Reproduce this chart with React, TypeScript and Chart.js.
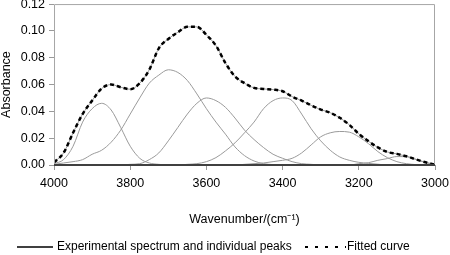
import React, { useEffect, useRef } from 'react';
import { Chart, registerables } from 'chart.js';

Chart.register(...registerables);

const wavenumbers = [
  4000, 3975, 3950, 3925, 3900, 3875, 3850, 3825, 3800, 3775,
  3750, 3725, 3700, 3675, 3650, 3625, 3600, 3575, 3550, 3525,
  3500, 3475, 3450, 3425, 3400, 3375, 3350, 3325, 3300, 3275,
  3250, 3225, 3200, 3175, 3150, 3125, 3100, 3075, 3050, 3025, 3000,
];

const fitted = [
  0.002, 0.009, 0.024, 0.038, 0.048, 0.057, 0.060, 0.058, 0.0565, 0.061,
  0.071, 0.087, 0.094, 0.099, 0.103, 0.103, 0.097, 0.089, 0.076, 0.066,
  0.061, 0.0575, 0.0567, 0.0562, 0.055, 0.051, 0.048, 0.0445, 0.0413, 0.039,
  0.0352, 0.030, 0.0232, 0.0178, 0.0131, 0.0097, 0.0083, 0.0065, 0.0042, 0.002, 0.0003,
];

const experimental = [
  0.002, 0.009, 0.024, 0.038, 0.048, 0.057, 0.060, 0.058, 0.0565, 0.061,
  0.071, 0.087, 0.094, 0.099, 0.103, 0.103, 0.097, 0.089, 0.076, 0.066,
  0.061, 0.0575, 0.0567, 0.0562, 0.055, 0.051, 0.048, 0.0445, 0.0413, 0.039,
  0.0352, 0.030, 0.0232, 0.0178, 0.0131, 0.0097, 0.0083, 0.0065, 0.0042, 0.002, 0.0003,
];

const peak1 = [
  0.001, 0.004, 0.014, 0.032, 0.042, 0.046, 0.041, 0.028, 0.014, 0.005,
  0.0015, 0.0005, 0, 0, 0, 0, 0, 0, 0, 0,
  0, 0, 0, 0, 0, 0, 0, 0, 0, 0,
  0, 0, 0, 0, 0, 0, 0, 0, 0, 0, 0,
];

const peak2 = [
  0.0005, 0.0015, 0.0025, 0.004, 0.008, 0.011, 0.017, 0.026, 0.038, 0.050,
  0.061, 0.067, 0.071, 0.069, 0.063, 0.053, 0.042, 0.032, 0.023, 0.0135,
  0.007, 0.003, 0.001, 0.0003, 0, 0, 0, 0, 0, 0,
  0, 0, 0, 0, 0, 0, 0, 0, 0, 0, 0,
];

const peak3 = [
  0, 0, 0, 0, 0, 0, 0, 0, 0.0005, 0.001,
  0.004, 0.009, 0.018, 0.028, 0.038, 0.046, 0.050, 0.048, 0.043, 0.035,
  0.026, 0.019, 0.013, 0.008, 0.005, 0.0025, 0.001, 0.0005, 0, 0,
  0, 0, 0, 0, 0, 0, 0, 0, 0, 0, 0,
];

const peak4 = [
  0, 0, 0, 0, 0, 0, 0, 0, 0, 0,
  0, 0, 0, 0, 0.0005, 0.001, 0.0025, 0.0055, 0.0105, 0.0165,
  0.024, 0.032, 0.042, 0.048, 0.050, 0.048, 0.038, 0.027, 0.018, 0.011,
  0.006, 0.0035, 0.002, 0.0012, 0.0006, 0, 0, 0, 0, 0, 0,
];

const peak5 = [
  0, 0, 0, 0, 0, 0, 0, 0, 0, 0,
  0, 0, 0, 0, 0, 0, 0, 0, 0, 0,
  0.0005, 0.001, 0.0015, 0.0025, 0.0035, 0.005, 0.009, 0.015, 0.021, 0.024,
  0.025, 0.0245, 0.021, 0.016, 0.010, 0.0055, 0.0025, 0.001, 0.0003, 0, 0,
];

const peak6 = [
  0, 0, 0, 0, 0, 0, 0, 0, 0, 0,
  0, 0, 0, 0, 0, 0, 0, 0, 0, 0,
  0, 0, 0, 0, 0, 0, 0, 0, 0, 0,
  0, 0, 0.001, 0.0017, 0.0035, 0.0048, 0.0063, 0.0062, 0.0042, 0.0018, 0.0005,
];

const xTickValues = [4000, 3800, 3600, 3400, 3200, 3000];
const yTickLabels = ['0.00', '0.02', '0.04', '0.06', '0.08', '0.10', '0.12'];
const legendLabels = ['Experimental spectrum and individual peaks', 'Fitted curve'];
const xTitle = 'Wavenumber/(cm\u207B\u00B9)';
const yTitle = 'Absorbance';

const FONT = "'Liberation Sans', Arial, Helvetica, sans-serif";

function toPoints(vals: number[]) {
  return wavenumbers.map((w, i) => ({ x: w, y: vals[i] }));
}

const framePlugin = {
  id: 'frame',
  afterDatasetsDraw(chart: any) {
    const { ctx, chartArea } = chart;
    const { left, right, top, bottom } = chartArea;
    ctx.save();
    ctx.lineWidth = 1;
    ctx.strokeStyle = '#a6a6a6';
    ctx.beginPath();
    ctx.moveTo(left + 0.5, bottom);
    ctx.lineTo(left + 0.5, top + 0.5);
    ctx.lineTo(right - 0.5, top + 0.5);
    ctx.lineTo(right - 0.5, bottom);
    ctx.stroke();
    ctx.strokeStyle = '#404040';
    ctx.lineWidth = 2;
    ctx.beginPath();
    ctx.moveTo(left, bottom);
    ctx.lineTo(right, bottom);
    ctx.stroke();
    ctx.restore();
  },
};

const legendPlugin = {
  id: 'customLegend',
  afterDraw(chart: any) {
    const { ctx } = chart;
    const y = 247;
    ctx.save();
    ctx.font = `12px ${FONT}`;
    ctx.fillStyle = '#000';
    ctx.textBaseline = 'middle';
    ctx.textAlign = 'left';
    ctx.strokeStyle = '#000';
    ctx.lineWidth = 1.5;
    ctx.beginPath();
    ctx.moveTo(17, y);
    ctx.lineTo(53, y);
    ctx.stroke();
    ctx.fillText(legendLabels[0], 57, y);
    ctx.setLineDash([3, 7]);
    ctx.lineWidth = 2;
    ctx.beginPath();
    ctx.moveTo(305, y);
    ctx.lineTo(346, y);
    ctx.stroke();
    ctx.setLineDash([]);
    ctx.fillText(legendLabels[1], 347, y);
    ctx.restore();
  },
};

export default function App() {
  const canvasRef = useRef<HTMLCanvasElement | null>(null);

  useEffect(() => {
    document.body.style.margin = '0';
    const canvas = canvasRef.current;
    if (!canvas) return;

    const peakStyle = {
      borderColor: '#9a9a9a',
      borderWidth: 1,
      pointRadius: 0,
      fill: false,
      cubicInterpolationMode: 'monotone' as const,
    };

    const chart = new Chart(canvas, {
      type: 'line',
      data: {
        datasets: [
          {
            label: 'Fitted curve',
            data: toPoints(fitted),
            borderColor: '#000',
            borderWidth: 2.5,
            borderDash: [4, 3],
            pointRadius: 0,
            fill: false,
            cubicInterpolationMode: 'monotone',
          },
          { label: 'Experimental spectrum', data: toPoints(experimental), ...peakStyle },
          { label: 'Peak 1', data: toPoints(peak1), ...peakStyle },
          { label: 'Peak 2', data: toPoints(peak2), ...peakStyle },
          { label: 'Peak 3', data: toPoints(peak3), ...peakStyle },
          { label: 'Peak 4', data: toPoints(peak4), ...peakStyle },
          { label: 'Peak 5', data: toPoints(peak5), ...peakStyle },
          { label: 'Peak 6', data: toPoints(peak6), ...peakStyle },
        ],
      },
      options: {
        animation: false,
        responsive: false,
        devicePixelRatio: 1,
        layout: { padding: { top: 4, right: 15, bottom: 28, left: 0 } },
        plugins: {
          legend: { display: false },
          tooltip: { enabled: false },
        },
        scales: {
          x: {
            type: 'linear',
            reverse: true,
            min: 3000,
            max: 4000,
            afterBuildTicks: (scale: any) => {
              scale.ticks = xTickValues.map((v) => ({ value: v }));
            },
            ticks: {
              color: '#000',
              padding: 1,
              maxRotation: 0,
              autoSkip: false,
              font: { family: FONT, size: 12.5, lineHeight: 2 },
              callback: (v: any) => String(v),
            },
            grid: {
              display: true,
              drawOnChartArea: false,
              drawTicks: true,
              tickLength: 5,
              color: '#999',
            },
            border: { display: false },
            title: {
              display: true,
              text: xTitle,
              color: '#000',
              font: { family: FONT, size: 12.5 },
              padding: { top: 15, bottom: 0 },
            },
          },
          y: {
            type: 'linear',
            min: 0,
            max: 0.12,
            ticks: {
              stepSize: 0.02,
              color: '#000',
              padding: 4,
              font: { family: FONT, size: 12.5, lineHeight: 0.01 },
              callback: (_v: any, i: number) => yTickLabels[i],
            },
            grid: {
              display: true,
              drawOnChartArea: false,
              drawTicks: true,
              tickLength: 5,
              color: '#999',
            },
            border: { display: false },
            title: {
              display: true,
              text: yTitle,
              color: '#000',
              font: { family: FONT, size: 12.5, lineHeight: 1 },
              padding: { top: 0, bottom: 4.2 },
            },
          },
        },
      },
      plugins: [framePlugin, legendPlugin],
    });

    return () => chart.destroy();
  }, []);

  return (
    <div style={{ position: 'fixed', left: 0, top: 0, width: 450, height: 255 }}>
      <canvas ref={canvasRef} width={450} height={255} />
    </div>
  );
}
